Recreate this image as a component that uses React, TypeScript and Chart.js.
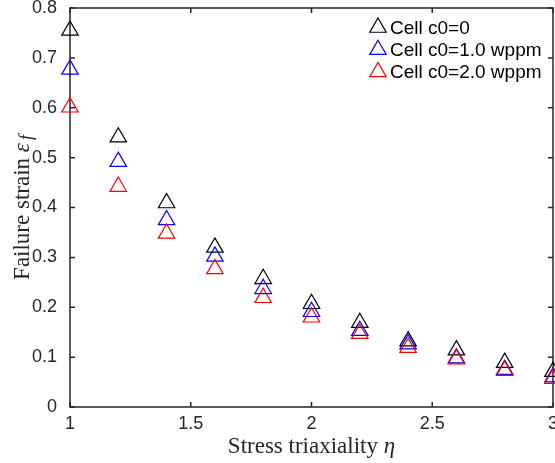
import React, { useEffect, useRef } from 'react';
import { Chart, registerables } from 'chart.js';

Chart.register(...registerables);

const xValues = [1.0, 1.2, 1.4, 1.6, 1.8, 2.0, 2.2, 2.4, 2.6, 2.8, 3.0];
const cellC0 = [0.755, 0.541, 0.409, 0.32, 0.257, 0.207, 0.169, 0.132, 0.114, 0.089, 0.071];
const cellC1 = [0.677, 0.492, 0.375, 0.302, 0.237, 0.191, 0.153, 0.126, 0.098, 0.075, 0.06];
const cellC2 = [0.601, 0.442, 0.348, 0.277, 0.219, 0.18, 0.147, 0.119, 0.096, 0.073, 0.057];
const seriesLabels = ['Cell c0=0', 'Cell c0=1.0 wppm', 'Cell c0=2.0 wppm'];
const seriesColors = ['#000000', '#0000ff', '#ff0000'];
const xTicks = [1, 1.5, 2, 2.5, 3];
const yTicks = [0, 0.1, 0.2, 0.3, 0.4, 0.5, 0.6, 0.7, 0.8];
const xTitle = 'Stress triaxiality ';
const xTitleSymbol = 'η';
const yTitle = 'Failure strain ';
const yTitleSymbol = 'ε';
const yTitleSub = 'f';

const AXIS_COLOR = '#262626';
const SANS = "'Liberation Sans', Arial, sans-serif";
const SERIF = "'Liberation Serif', 'DejaVu Serif', serif";

function triangle(ctx: CanvasRenderingContext2D, x: number, y: number, r: number) {
  ctx.beginPath();
  let a = 0;
  ctx.moveTo(x + Math.sin(a) * r, y - Math.cos(a) * r);
  a += (2 * Math.PI) / 3;
  ctx.lineTo(x + Math.sin(a) * r, y - Math.cos(a) * r);
  a += (2 * Math.PI) / 3;
  ctx.lineTo(x + Math.sin(a) * r, y - Math.cos(a) * r);
  ctx.closePath();
}

const framePlugin = {
  id: 'matlabFrame',
  beforeDatasetsDraw(chart: any) {
    const { ctx, chartArea } = chart;
    const { left, right, top, bottom } = chartArea;
    const xs = chart.scales.x;
    const ys = chart.scales.y;
    const tl = 5;
    ctx.save();
    ctx.strokeStyle = AXIS_COLOR;
    ctx.lineWidth = 1.5;
    ctx.strokeRect(left, top, right - left, bottom - top);
    ctx.beginPath();
    xTicks.forEach((v) => {
      const px = xs.getPixelForValue(v);
      ctx.moveTo(px, bottom);
      ctx.lineTo(px, bottom - tl);
      ctx.moveTo(px, top);
      ctx.lineTo(px, top + tl);
    });
    yTicks.forEach((v) => {
      const py = ys.getPixelForValue(v);
      ctx.moveTo(left, py);
      ctx.lineTo(left + tl, py);
      ctx.moveTo(right, py);
      ctx.lineTo(right - tl, py);
    });
    ctx.stroke();
    ctx.restore();
  },
  afterDraw(chart: any) {
    const { ctx, chartArea } = chart;
    ctx.save();
    // legend
    ctx.font = `19px ${SANS}`;
    ctx.textBaseline = 'middle';
    ctx.textAlign = 'left';
    seriesLabels.forEach((label, i) => {
      const cy = 27.5 + i * 22.2;
      ctx.strokeStyle = seriesColors[i];
      ctx.lineWidth = 1.2;
      triangle(ctx, 378, cy, 9.5);
      ctx.stroke();
      ctx.fillStyle = '#000000';
      ctx.fillText(label, 390, cy + 1);
    });

    // x title
    ctx.fillStyle = AXIS_COLOR;
    ctx.textBaseline = 'alphabetic';
    const normalF = `23px ${SERIF}`;
    const italicF = `italic 23px ${SERIF}`;
    ctx.font = normalF;
    const w1 = ctx.measureText(xTitle).width;
    ctx.font = italicF;
    const w2 = ctx.measureText(xTitleSymbol).width;
    const cx = (chartArea.left + chartArea.right) / 2;
    const sx = cx - (w1 + w2) / 2;
    ctx.font = normalF;
    ctx.fillText(xTitle, sx, 453);
    ctx.font = italicF;
    ctx.fillText(xTitleSymbol, sx + w1, 453);

    // y title (rotated)
    ctx.save();
    ctx.translate(29, (chartArea.top + chartArea.bottom) / 2);
    ctx.rotate(-Math.PI / 2);
    ctx.font = normalF;
    const yw1 = ctx.measureText(yTitle).width;
    ctx.font = italicF;
    const yw2 = ctx.measureText(yTitleSymbol).width;
    const subFont = `italic 18px ${SERIF}`;
    ctx.font = subFont;
    const yw3 = ctx.measureText(yTitleSub).width;
    const total = yw1 + yw2 + 3 + yw3;
    const ty = -total / 2;
    ctx.font = normalF;
    ctx.fillText(yTitle, ty, 0);
    ctx.font = italicF;
    ctx.fillText(yTitleSymbol, ty + yw1, 0);
    ctx.font = subFont;
    ctx.fillText(yTitleSub, ty + yw1 + yw2 + 3, 3);
    ctx.restore();

    ctx.restore();
  },
};

export default function App() {
  const canvasRef = useRef<HTMLCanvasElement | null>(null);

  useEffect(() => {
    document.body.style.margin = '0';
    const canvas = canvasRef.current;
    if (!canvas) return;
    const mk = (data: number[], i: number, order: number) => ({
      label: seriesLabels[i],
      data: xValues.map((x, k) => ({ x, y: data[k] })),
      showLine: false,
      pointStyle: 'triangle',
      pointRadius: 9.5,
      pointHoverRadius: 9.5,
      pointBorderWidth: 1.2,
      pointBorderColor: seriesColors[i],
      pointBackgroundColor: 'rgba(0,0,0,0)',
      borderColor: seriesColors[i],
      backgroundColor: 'rgba(0,0,0,0)',
      clip: false as any,
      order,
    });
    const tickFont = { family: SANS, size: 18 };
    const chart = new Chart(canvas, {
      type: 'scatter',
      data: {
        datasets: [mk(cellC0, 0, 3), mk(cellC1, 1, 2), mk(cellC2, 2, 1)],
      },
      options: {
        responsive: false,
        animation: false,
        devicePixelRatio: 1,
        layout: { autoPadding: false, padding: { top: 8, right: 2, left: 0, bottom: 0 } },
        plugins: {
          legend: { display: false },
          tooltip: { enabled: false },
        },
        events: [],
        scales: {
          x: {
            type: 'linear',
            min: 1,
            max: 3,
            grid: { display: false },
            border: { display: false },
            ticks: {
              color: AXIS_COLOR,
              font: tickFont,
              padding: -2,
              maxRotation: 0,
              autoSkip: false,
              callback: (v: any) => String(Number(v)),
            },
            afterBuildTicks: (scale: any) => {
              scale.ticks = xTicks.map((v) => ({ value: v }));
            },
            afterFit: (scale: any) => {
              scale.height = 56;
              scale.paddingLeft = 0;
              scale.paddingRight = 0;
            },
          },
          y: {
            type: 'linear',
            min: 0,
            max: 0.8,
            grid: { display: false },
            border: { display: false },
            ticks: {
              color: AXIS_COLOR,
              font: tickFont,
              padding: 5,
              autoSkip: false,
              callback: (v: any) => String(Number(v)),
            },
            afterBuildTicks: (scale: any) => {
              scale.ticks = yTicks.map((v) => ({ value: v }));
            },
            afterFit: (scale: any) => {
              scale.width = 70;
              scale.paddingTop = 0;
              scale.paddingBottom = 0;
            },
          },
        },
      } as any,
      plugins: [framePlugin],
    });
    return () => chart.destroy();
  }, []);

  return (
    <div style={{ width: 555, height: 463 }}>
      <canvas ref={canvasRef} width={555} height={463} style={{ display: 'block' }} />
    </div>
  );
}
